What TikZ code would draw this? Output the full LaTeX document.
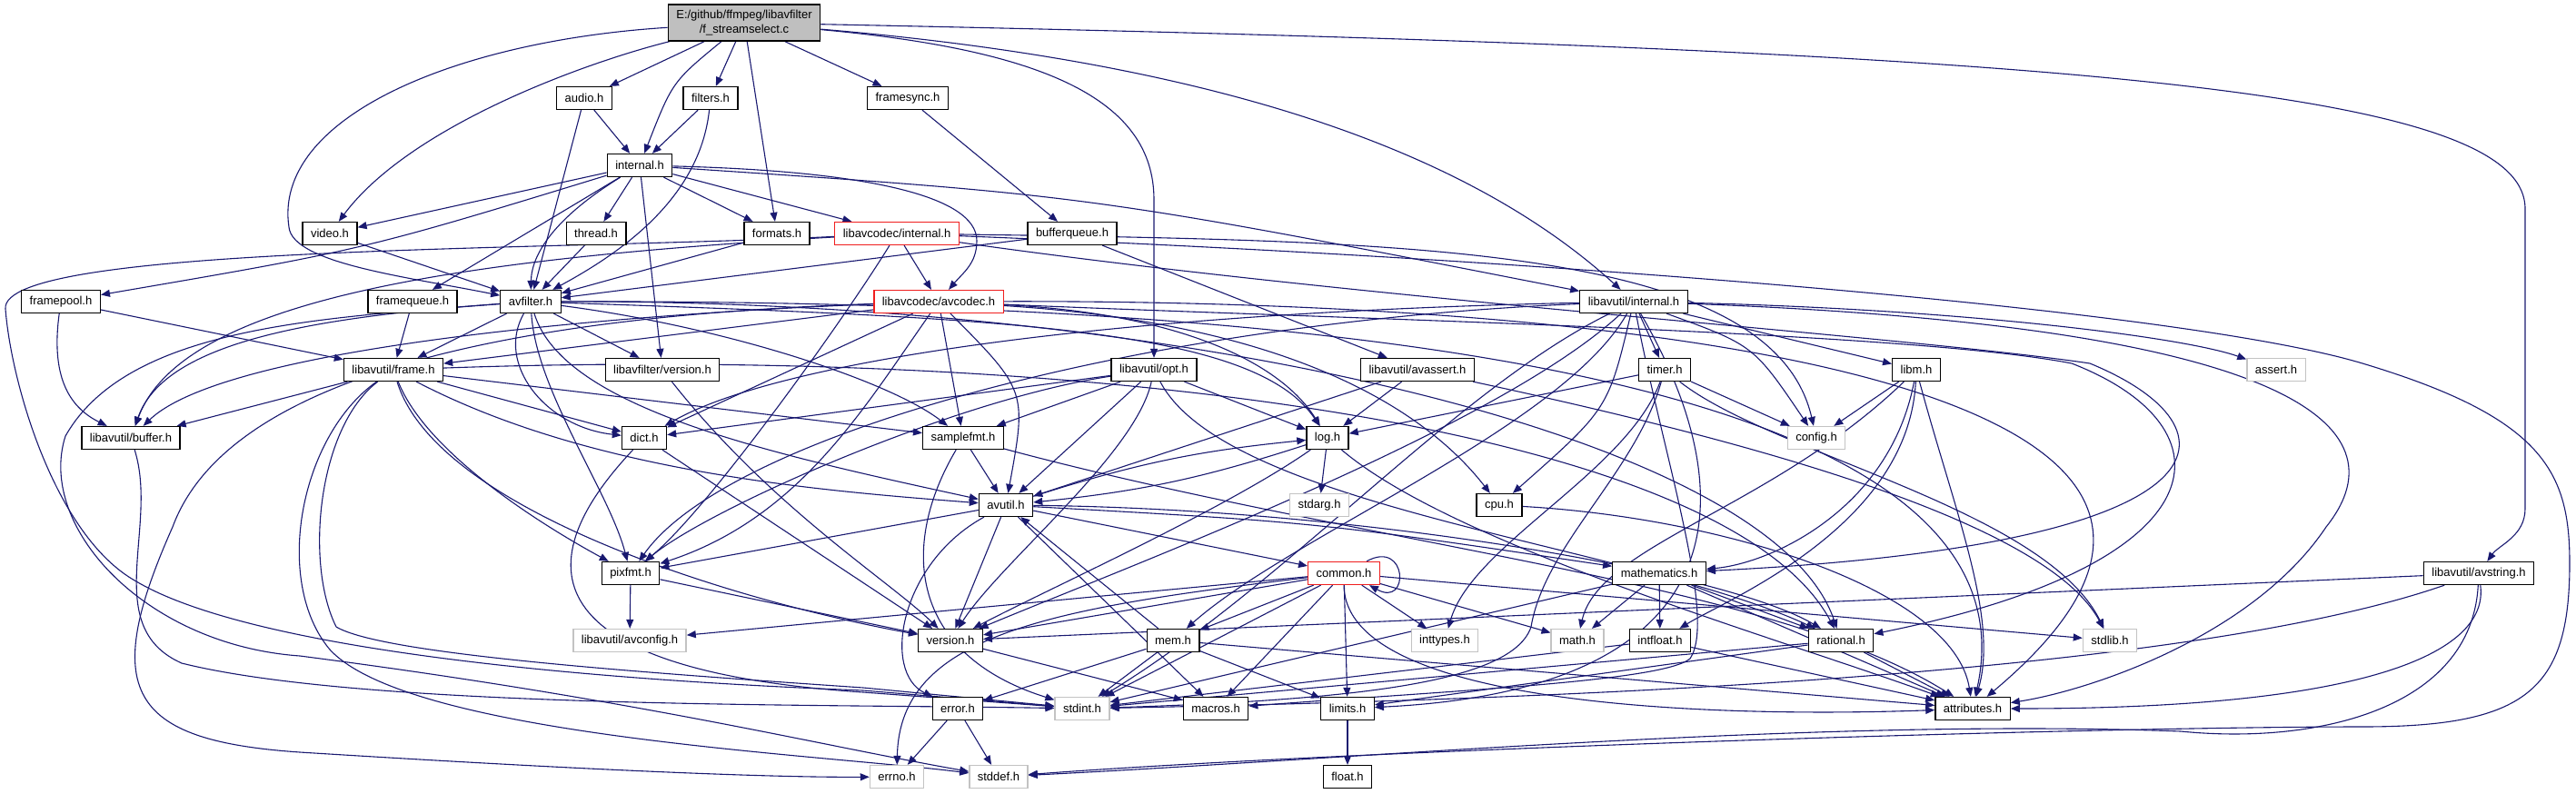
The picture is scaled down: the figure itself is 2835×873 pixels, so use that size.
\documentclass[tikz,border=0pt]{standalone}
\usepackage{fontspec}
\setmainfont{Liberation Sans}
\usetikzlibrary{arrows.meta,backgrounds}
\definecolor{edgeblue}{RGB}{25,25,112}
\definecolor{rootgray}{RGB}{191,191,191}
\definecolor{truncred}{RGB}{240,30,30}
\definecolor{sysgray}{RGB}{195,195,195}
\tikzset{
  hdr/.style={draw=black, line width=1.3pt, fill=white, inner xsep=9pt, inner ysep=0pt, minimum height=25pt, font=\fontsize{13}{16}\selectfont},
  hdrtrunc/.style={hdr, draw=truncred},
  hdrsys/.style={hdr, draw=sysgray},
  dep/.style={edgeblue, line width=1.1pt, -{Triangle[length=10pt,width=8pt]}}
}
\begin{document}
\begin{tikzpicture}[x=1pt,y=-1pt]
  \useasboundingbox (0,0) rectangle (2835,873);
  % rank 0..3
  \node[hdr, fill=rootgray, minimum height=40pt, align=center] (root) at (819,25) {E:/github/ffmpeg/libavfilter\\/f\_streamselect.c};
  \node[hdr] (audio) at (643,108) {audio.h}; \node[hdr] (filters) at (782,108) {filters.h}; \node[hdr] (framesync) at (999,108) {framesync.h};
  \node[hdr] (internal) at (704,182) {internal.h};
  \node[hdr] (video) at (363,257) {video.h}; \node[hdr] (thread) at (656,257) {thread.h}; \node[hdr] (formats) at (855,257) {formats.h};
  \node[hdrtrunc] (lcinternal) at (987,257) {libavcodec/internal.h}; \node[hdr] (bufferqueue) at (1180,257) {bufferqueue.h};
  % rank 4..7
  \node[hdr] (framepool) at (67,332) {framepool.h}; \node[hdr] (framequeue) at (454,332) {framequeue.h}; \node[hdr] (avfilter) at (584,332) {avfilter.h};
  \node[hdrtrunc] (avcodec) at (1033,332) {libavcodec/avcodec.h}; \node[hdr] (luinternal) at (1798,332) {libavutil/internal.h};
  \node[hdr] (frame) at (433,407) {libavutil/frame.h}; \node[hdr] (lfversion) at (729,407) {libavfilter/version.h}; \node[hdr] (opt) at (1270,407) {libavutil/opt.h};
  \node[hdr] (avassert) at (1560,407) {libavutil/avassert.h}; \node[hdr] (timer) at (1832,407) {timer.h}; \node[hdr] (libm) at (2109,407) {libm.h};
  \node[hdrsys] (assert) at (2505,407) {assert.h};
  \node[hdr] (buffer) at (144,482) {libavutil/buffer.h}; \node[hdr] (dict) at (709,482) {dict.h}; \node[hdr] (samplefmt) at (1060,482) {samplefmt.h};
  \node[hdr] (log) at (1461,482) {log.h}; \node[hdrsys] (config) at (1999,482) {config.h};
  \node[hdr] (avutil) at (1107,556) {avutil.h}; \node[hdrsys] (stdarg) at (1452,556) {stdarg.h}; \node[hdr] (cpu) at (1650,556) {cpu.h};
  % rank 8..11
  \node[hdr] (pixfmt) at (694,631) {pixfmt.h}; \node[hdrtrunc] (common) at (1479,631) {common.h}; \node[hdr] (mathematics) at (1826,631) {mathematics.h};
  \node[hdr] (avstring) at (2728,631) {libavutil/avstring.h};
  \node[hdrsys] (avconfig) at (693,705) {libavutil/avconfig.h}; \node[hdr] (version) at (1046,705) {version.h}; \node[hdr] (mem) at (1291,705) {mem.h};
  \node[hdrsys] (inttypes) at (1590,705) {inttypes.h}; \node[hdrsys] (math) at (1736,705) {math.h}; \node[hdr] (intfloat) at (1827,705) {intfloat.h};
  \node[hdr] (rational) at (2026,705) {rational.h}; \node[hdrsys] (stdlib) at (2322,705) {stdlib.h};
  \node[hdr] (error) at (1054,780) {error.h}; \node[hdrsys] (stdint) at (1191,780) {stdint.h}; \node[hdr] (macros) at (1338,780) {macros.h};
  \node[hdr] (limits) at (1483,780) {limits.h}; \node[hdr] (attributes) at (2171,780) {attributes.h};
  \node[hdrsys] (errno) at (987,855) {errno.h}; \node[hdrsys] (stddef) at (1099,855) {stddef.h}; \node[hdr] (float) at (1483,855) {float.h};

  \begin{scope}[on background layer]
  % source file
  \draw[dep] (root) .. controls (500,45) and (300,130) .. (318,250) .. controls (322,290) and (450,305) .. (avfilter);
  \draw[dep] (root) .. controls (640,70) and (450,140) .. (video); \draw[dep] (root) -- (audio); \draw[dep] (root) .. controls (740,90) .. (internal);
  \draw[dep] (root) -- (filters); \draw[dep] (root) -- (formats); \draw[dep] (root) -- (framesync);
  \draw[dep] (root) .. controls (1150,55) and (1270,110) .. (1270,220) -- (opt);
  \draw[dep] (root) .. controls (1350,70) and (1620,170) .. (luinternal);
  \draw[dep] (root) .. controls (2300,55) and (2779,100) .. (2779,230) -- (2779,560) .. controls (2779,590) and (2750,600) .. (avstring);
  % libavfilter
  \draw[dep] (audio) -- (internal); \draw[dep] (audio) -- (avfilter); \draw[dep] (filters) -- (internal);
  \draw[dep] (filters) .. controls (770,220) and (680,280) .. (avfilter); \draw[dep] (framesync) -- (bufferqueue);
  \draw[dep] (internal) -- (video); \draw[dep] (internal) -- (thread); \draw[dep] (internal) -- (formats); \draw[dep] (internal) -- (lcinternal);
  \draw[dep] (internal) .. controls (400,275) .. (framepool); \draw[dep] (internal) -- (framequeue); \draw[dep] (internal) -- (lfversion);
  \draw[dep] (internal) .. controls (610,240) and (585,280) .. (avfilter);
  \draw[dep] (internal) .. controls (950,188) and (1075,215) .. (1075,265) .. controls (1075,290) and (1060,300) .. (avcodec);
  \draw[dep] (internal) .. controls (1200,215) .. (luinternal);
  \draw[dep] (video) -- (avfilter); \draw[dep] (thread) -- (avfilter); \draw[dep] (formats) -- (avfilter);
  \draw[dep] (bufferqueue) -- (avfilter); \draw[dep] (bufferqueue) -- (avassert);
  \draw[dep] (framepool) .. controls (55,420) and (80,450) .. (buffer); \draw[dep] (framepool) -- (frame); \draw[dep] (framequeue) -- (frame);
  \draw[dep] (lfversion) .. controls (850,560) and (980,640) .. (version);
  % libavcodec
  \draw[dep] (lcinternal) -- (avcodec);
  \draw[dep] (lcinternal) .. controls (500,285) and (200,330) .. (buffer);
  \draw[dep] (lcinternal) .. controls (930,350) and (780,560) .. (pixfmt);
  \draw[dep] (lcinternal) .. controls (600,276) and (0,270) .. (6,340) .. controls (12,420) and (60,590) .. (150,640) .. controls (260,705) and (560,745) .. (950,760) -- (stdint);
  \draw[dep] (lcinternal) .. controls (1550,265) and (1950,270) .. (config);
  \draw[dep] (lcinternal) .. controls (1500,330) and (2100,370) .. (2300,400) .. controls (2470,470) and (2470,600) .. (mathematics);
  \draw[dep] (lcinternal) .. controls (1700,285) and (2400,340) .. (2600,400) .. controls (2800,460) and (2828,520) .. (2828,620) .. controls (2828,760) and (2780,800) .. (2600,800) .. controls (2300,800) and (1500,825) .. (stddef);
  \draw[dep] (avcodec) -- (samplefmt); \draw[dep] (avcodec) .. controls (1130,430) .. (avutil);
  \draw[dep] (avcodec) .. controls (1300,345) and (1410,400) .. (log); \draw[dep] (avcodec) .. controls (1400,355) and (1560,440) .. (cpu);
  \draw[dep] (avcodec) -- (dict); \draw[dep] (avcodec) -- (frame);
  \draw[dep] (avcodec) .. controls (700,345) and (250,380) .. (buffer);
  \draw[dep] (avcodec) .. controls (950,450) and (880,570) .. (pixfmt);
  \draw[dep] (avcodec) .. controls (1500,352) and (2100,365) .. (2280,400) .. controls (2460,470) and (2450,620) .. (rational);
  \draw[dep] (avcodec) .. controls (1800,330) and (2600,420) .. (attributes);
  \draw[dep] (avcodec) .. controls (650,345) and (260,390) .. (190,580) .. controls (110,760) and (140,815) .. (330,828) .. controls (650,848) and (850,856) .. (errno);
  % avfilter.h and frame.h
  \draw[dep] (avfilter) -- (frame); \draw[dep] (avfilter) .. controls (330,350) and (180,380) .. (buffer);
  \draw[dep] (avfilter) .. controls (545,400) and (600,470) .. (dict); \draw[dep] (avfilter) -- (lfversion);
  \draw[dep] (avfilter) .. controls (1100,350) and (1380,360) .. (log); \draw[dep] (avfilter) .. controls (800,360) and (980,420) .. (samplefmt);
  \draw[dep] (avfilter) .. controls (620,450) and (850,500) .. (avutil); \draw[dep] (avfilter) .. controls (590,430) and (670,540) .. (pixfmt);
  \draw[dep] (avfilter) .. controls (1300,330) and (1950,480) .. (rational); \draw[dep] (avfilter) .. controls (1500,330) and (2250,420) .. (attributes);
  \draw[dep] (avfilter) .. controls (350,350) and (140,360) .. (72,480) .. controls (40,580) and (160,710) .. (330,722) .. controls (700,770) and (900,820) .. (stddef);
  \draw[dep] (frame) -- (buffer); \draw[dep] (frame) -- (dict); \draw[dep] (frame) -- (samplefmt);
  \draw[dep] (frame) .. controls (650,520) and (900,540) .. (avutil); \draw[dep] (frame) .. controls (470,500) and (600,580) .. (pixfmt);
  \draw[dep] (frame) .. controls (480,560) and (800,660) .. (version); \draw[dep] (frame) .. controls (1200,380) and (1900,470) .. (rational);
  \draw[dep] (frame) .. controls (330,480) and (300,640) .. (363,715) .. controls (450,810) and (900,830) .. (stddef);
  \draw[dep] (frame) .. controls (350,470) and (335,620) .. (370,690) .. controls (420,720) and (700,740) .. (950,757) -- (stdint);
  \draw[dep] (buffer) .. controls (175,580) and (110,690) .. (200,730) .. controls (400,780) and (900,775) .. (stdint);
  % libavutil
  \draw[dep] (luinternal) -- (timer); \draw[dep] (luinternal) -- (libm);
  \draw[dep] (luinternal) .. controls (2150,340) and (2400,370) .. (assert); \draw[dep] (luinternal) .. controls (1930,380) .. (config);
  \draw[dep] (luinternal) .. controls (1770,450) .. (cpu); \draw[dep] (luinternal) .. controls (1200,345) and (850,400) .. (dict);
  \draw[dep] (luinternal) .. controls (1250,355) and (800,480) .. (pixfmt); \draw[dep] (luinternal) .. controls (1650,470) and (1250,620) .. (version);
  \draw[dep] (luinternal) .. controls (1720,470) and (1420,590) .. (mem);
  \draw[dep] (luinternal) .. controls (1830,500) and (1890,680) .. (1860,725) .. controls (1830,750) and (1600,760) .. (macros);
  \draw[dep] (luinternal) .. controls (1930,560) and (1900,760) .. (limits); \draw[dep] (luinternal) .. controls (1600,430) and (1420,640) .. (stdint);
  \draw[dep] (luinternal) .. controls (2560,360) and (2640,480) .. (2560,580) .. controls (2480,700) and (2300,760) .. (attributes);
  \draw[dep] (timer) -- (config); \draw[dep] (timer) -- (log); \draw[dep] (timer) .. controls (1950,500) and (2250,560) .. (stdlib);
  \draw[dep] (timer) .. controls (1790,520) and (1620,600) .. (inttypes);
  \draw[dep] (timer) .. controls (1800,520) and (1700,600) .. (1685,690) .. controls (1665,750) and (1500,770) .. (stdint);
  \draw[dep] (libm) -- (config); \draw[dep] (libm) .. controls (1950,560) and (1760,600) .. (math);
  \draw[dep] (libm) .. controls (2080,560) and (1950,620) .. (mathematics); \draw[dep] (libm) .. controls (2100,580) and (1900,660) .. (intfloat);
  \draw[dep] (libm) .. controls (2150,560) and (2200,680) .. (attributes);
  \draw[dep] (avassert) -- (log); \draw[dep] (avassert) -- (avutil); \draw[dep] (avassert) .. controls (1900,480) and (2250,570) .. (stdlib);
  \draw[dep] (opt) -- (dict); \draw[dep] (opt) .. controls (1050,440) and (780,560) .. (pixfmt); \draw[dep] (opt) -- (samplefmt);
  \draw[dep] (opt) -- (avutil); \draw[dep] (opt) .. controls (1250,500) and (1100,620) .. (version); \draw[dep] (opt) -- (log);
  \draw[dep] (opt) .. controls (1350,560) and (1800,600) .. (rational);
  \draw[dep] (dict) -- (version); \draw[dep] (dict) .. controls (560,640) and (620,740) .. (950,762) -- (stdint);
  \draw[dep] (samplefmt) -- (avutil); \draw[dep] (samplefmt) .. controls (990,600) and (1000,720) .. (stdint);
  \draw[dep] (samplefmt) .. controls (1500,600) and (1950,640) .. (attributes);
  \draw[dep] (log) -- (stdarg); \draw[dep] (log) to[bend left=6] (avutil); \draw[dep] (avutil) to[bend left=6] (log);
  \draw[dep] (log) .. controls (1600,600) and (1950,700) .. (attributes); \draw[dep] (log) .. controls (1350,560) and (1150,650) .. (version);
  \draw[dep] (avutil) -- (common); \draw[dep] (avutil) .. controls (990,620) and (970,740) .. (error);
  \draw[dep] (avutil) .. controls (1500,560) and (1900,630) .. (rational); \draw[dep] (avutil) -- (version); \draw[dep] (avutil) -- (macros);
  \draw[dep] (avutil) .. controls (1450,575) .. (mathematics); \draw[dep] (avutil) -- (pixfmt);
  \draw[dep] (cpu) .. controls (1900,570) and (2150,650) .. (attributes);
  \draw[dep] (pixfmt) -- (avconfig); \draw[dep] (pixfmt) -- (version);
  \draw[dep] ([xshift=-15pt]common.north east) .. controls +(45,-25) and +(45,25) .. ([xshift=-12pt]common.south east);
  \draw[dep] (common) .. controls (1150,670) and (990,700) .. (errno); \draw[dep] (common) -- (inttypes); \draw[dep] (common) -- (limits);
  \draw[dep] (common) -- (math); \draw[dep] (common) -- (stdint); \draw[dep] (common) -- (stdlib);
  \draw[dep] (common) .. controls (1480,780) and (1900,790) .. (attributes); \draw[dep] (common) -- (macros); \draw[dep] (common) -- (version);
  \draw[dep] (common) -- (avconfig); \draw[dep] (common) -- (mem);
  \draw[dep] (mathematics) -- (stdint); \draw[dep] (mathematics) -- (math); \draw[dep] (mathematics) -- (attributes);
  \draw[dep] (mathematics) -- (rational); \draw[dep] (mathematics) -- (intfloat);
  \draw[dep] (intfloat) -- (stdint); \draw[dep] (intfloat) -- (attributes);
  \draw[dep] (rational) -- (stdint); \draw[dep] (rational) -- (limits); \draw[dep] (rational) -- (attributes);
  \draw[dep] (mem) -- (avutil); \draw[dep] (mem) -- (error); \draw[dep] (mem) -- (stdint); \draw[dep] (mem) -- (limits); \draw[dep] (mem) -- (attributes);
  \draw[dep] (version) -- (macros); \draw[dep] (error) -- (errno); \draw[dep] (error) -- (stddef); \draw[dep] (limits) -- (float);
  \draw[dep] (avstring) -- (version); \draw[dep] (avstring) .. controls (2400,745) and (1700,770) .. (stdint);
  \draw[dep] (avstring) .. controls (2720,780) and (2550,820) .. (2400,805) .. controls (2000,790) and (1500,835) .. (stddef);
  \draw[dep] (avstring) .. controls (2740,720) and (2600,780) .. (attributes);
  \end{scope}
\end{tikzpicture}
\end{document}
